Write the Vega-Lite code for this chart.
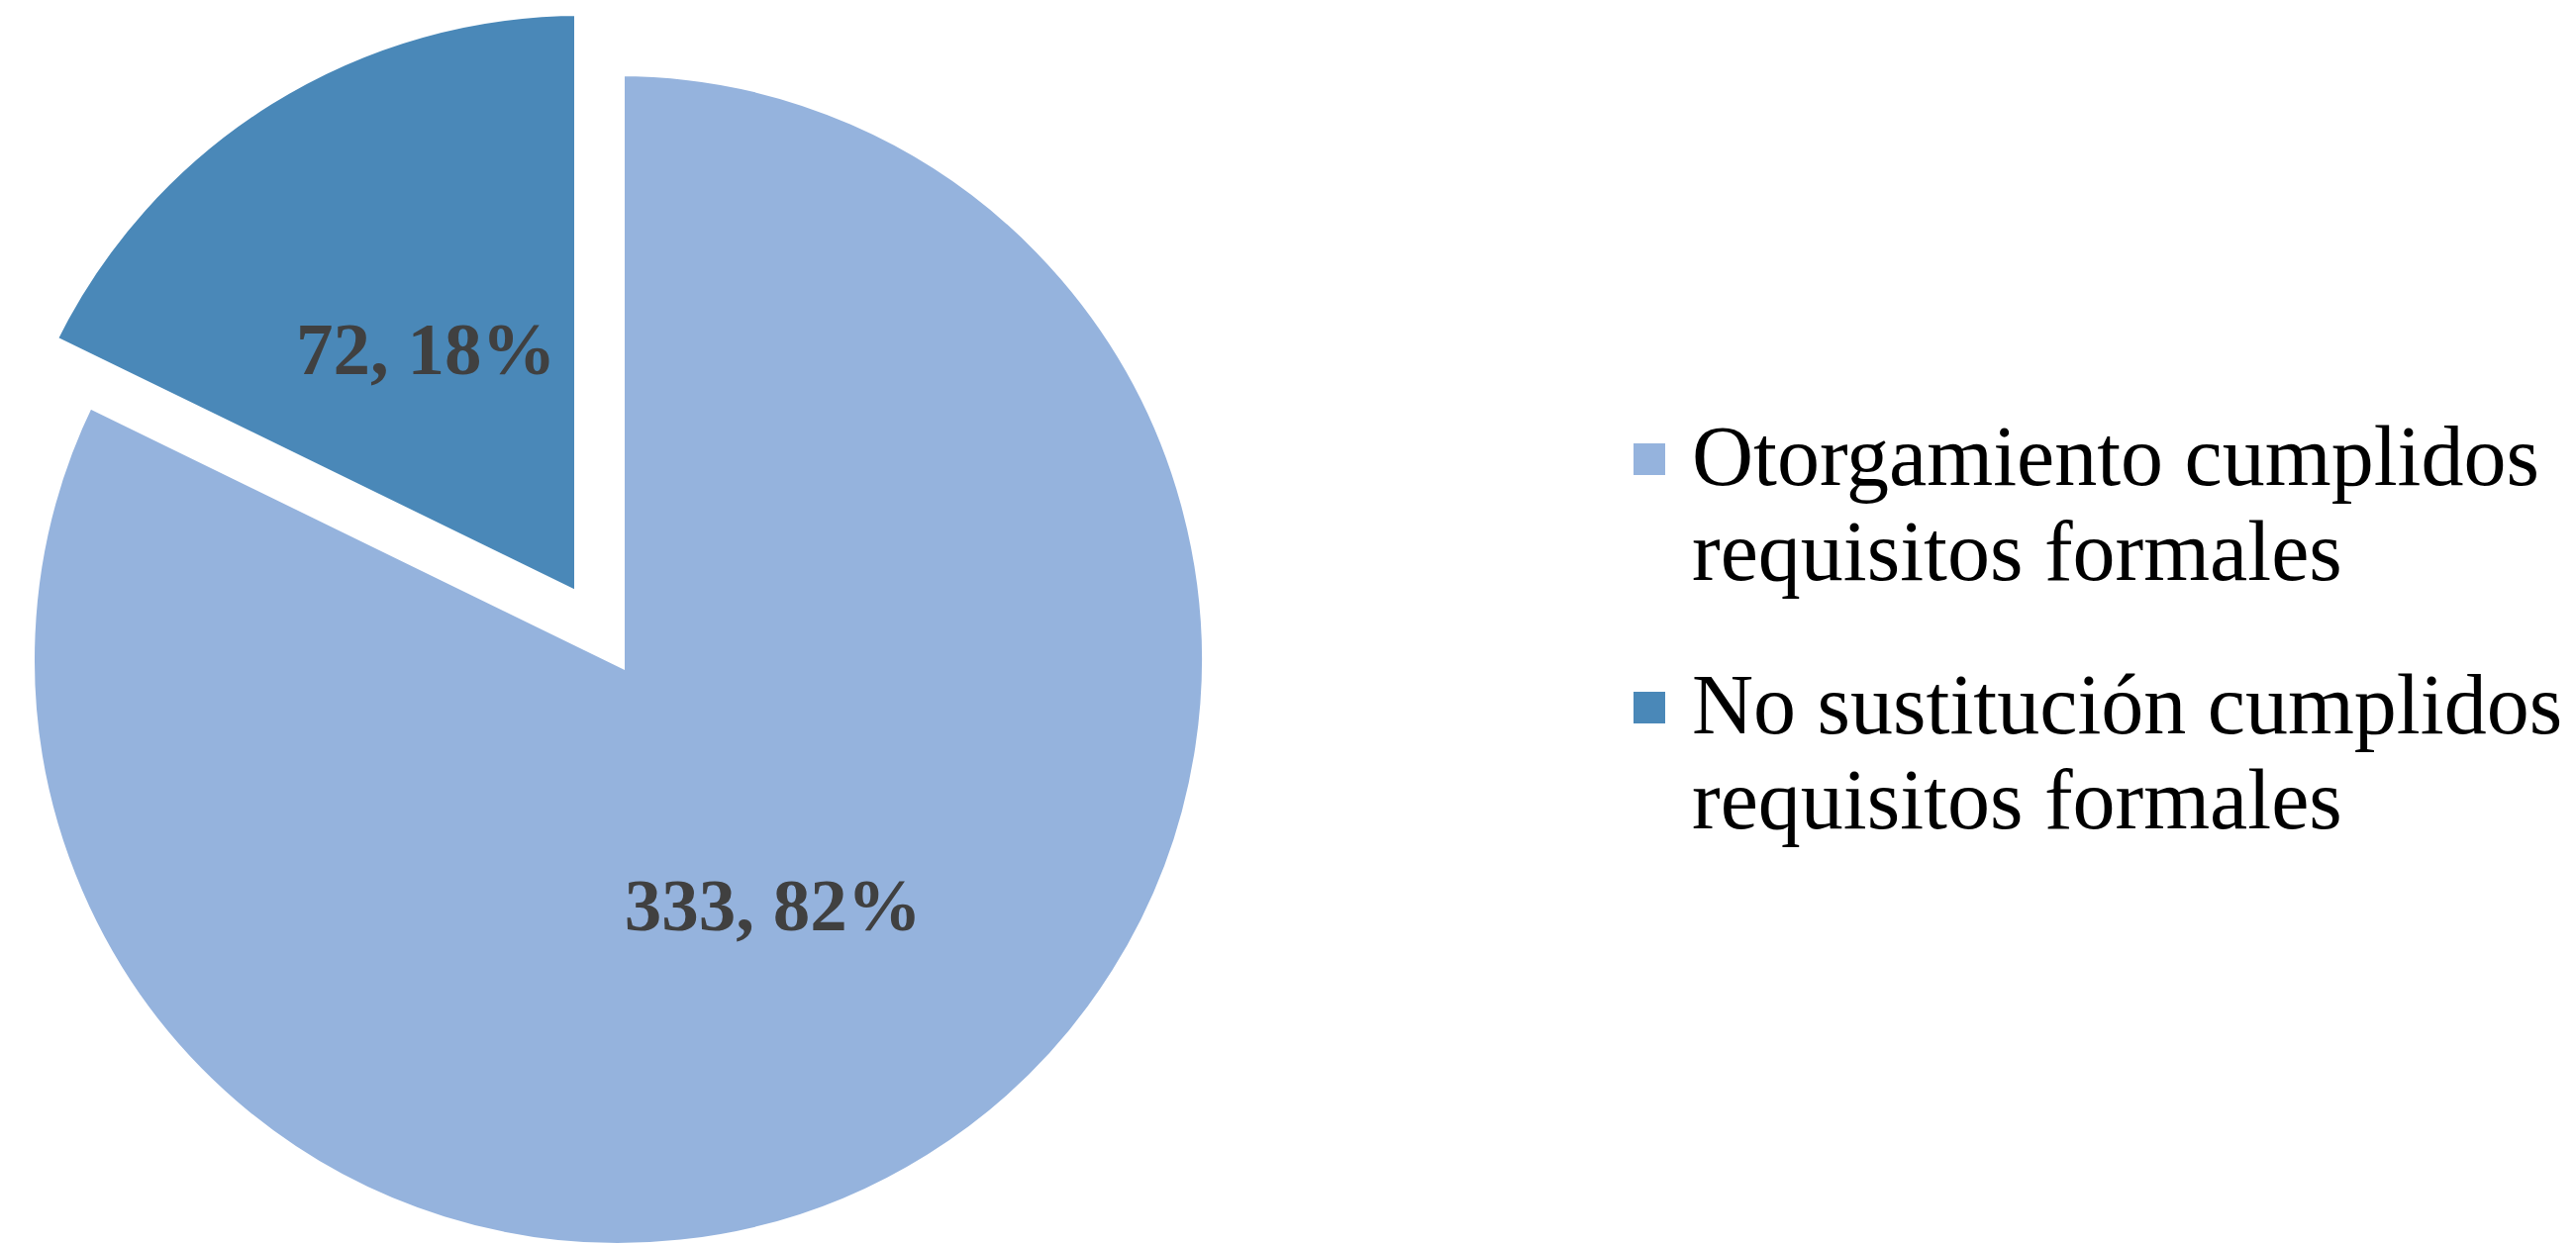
{
  "$schema": "https://vega.github.io/schema/vega-lite/v6.json",
  "width": 1249,
  "height": 1333,
  "autosize": {"type": "none"},
  "padding": {"left": 0, "top": 0, "right": 1353, "bottom": 0},
  "background": "white",
  "view": {"stroke": null},
  "config": {
    "style": {"guide-label": {"lineHeight": 96}}
  },
  "data": {
    "values": [
      {"categoria": "Otorgamiento cumplidos requisitos formales", "n": 333, "etiqueta": "333, 82%"},
      {"categoria": "No sustitución cumplidos requisitos formales", "n": 72, "etiqueta": "72, 18%"}
    ]
  },
  "encoding": {
    "theta": {"field": "n", "type": "quantitative", "stack": true},
    "order": {"field": "n", "type": "quantitative", "sort": "descending"}
  },
  "layer": [
    {
      "encoding": {
        "color": {
          "field": "categoria",
          "type": "nominal",
          "scale": {
            "domain": ["Otorgamiento cumplidos requisitos formales", "No sustitución cumplidos requisitos formales"],
            "range": ["#95b3dd", "#4a88b8"]
          },
          "legend": {
            "title": null,
            "orient": "none",
            "legendX": 1623,
            "legendY": 421,
            "padding": 0,
            "symbolType": "square",
            "symbolSize": 1024,
            "symbolStrokeWidth": 0,
            "symbolOpacity": 1,
            "labelFont": "Liberation Serif",
            "labelFontSize": 86,
            "labelColor": "#000000",
            "labelLimit": 1500,
            "labelOffset": 0,
            "labelBaseline": "middle",
            "rowPadding": 69,
            "labelExpr": "[replace(datum.label, ' requisitos formales', ''), 'requisitos formales']"
          }
        }
      },
      "layer": [
        {
          "mark": {"type": "arc", "outerRadius": 596, "stroke": "white", "strokeWidth": 13},
          "encoding": {
            "fillOpacity": {
              "condition": {"test": "datum.categoria === 'No sustitución cumplidos requisitos formales'", "value": 0},
              "value": 1
            },
            "strokeOpacity": {
              "condition": {"test": "datum.categoria === 'No sustitución cumplidos requisitos formales'", "value": 0},
              "value": 1
            }
          }
        },
        {
          "mark": {"type": "arc", "outerRadius": 596, "stroke": "white", "strokeWidth": 13, "xOffset": -38, "yOffset": -61},
          "encoding": {
            "fillOpacity": {
              "condition": {"test": "datum.categoria === 'Otorgamiento cumplidos requisitos formales'", "value": 0},
              "value": 1
            },
            "strokeOpacity": {
              "condition": {"test": "datum.categoria === 'Otorgamiento cumplidos requisitos formales'", "value": 0},
              "value": 1
            }
          }
        }
      ]
    },
    {
      "mark": {"type": "text", "radius": 295, "font": "Liberation Serif", "fontWeight": "bold", "fontSize": 75, "fill": "#404040"},
      "encoding": {
        "text": {
          "field": "etiqueta",
          "type": "nominal",
          "condition": {"test": "datum.categoria === 'No sustitución cumplidos requisitos formales'", "value": ""}
        }
      }
    },
    {
      "mark": {"type": "text", "radius": 295, "font": "Liberation Serif", "fontWeight": "bold", "fontSize": 75, "fill": "#404040", "xOffset": -38, "yOffset": -61},
      "encoding": {
        "text": {
          "field": "etiqueta",
          "type": "nominal",
          "condition": {"test": "datum.categoria === 'Otorgamiento cumplidos requisitos formales'", "value": ""}
        }
      }
    }
  ]
}
